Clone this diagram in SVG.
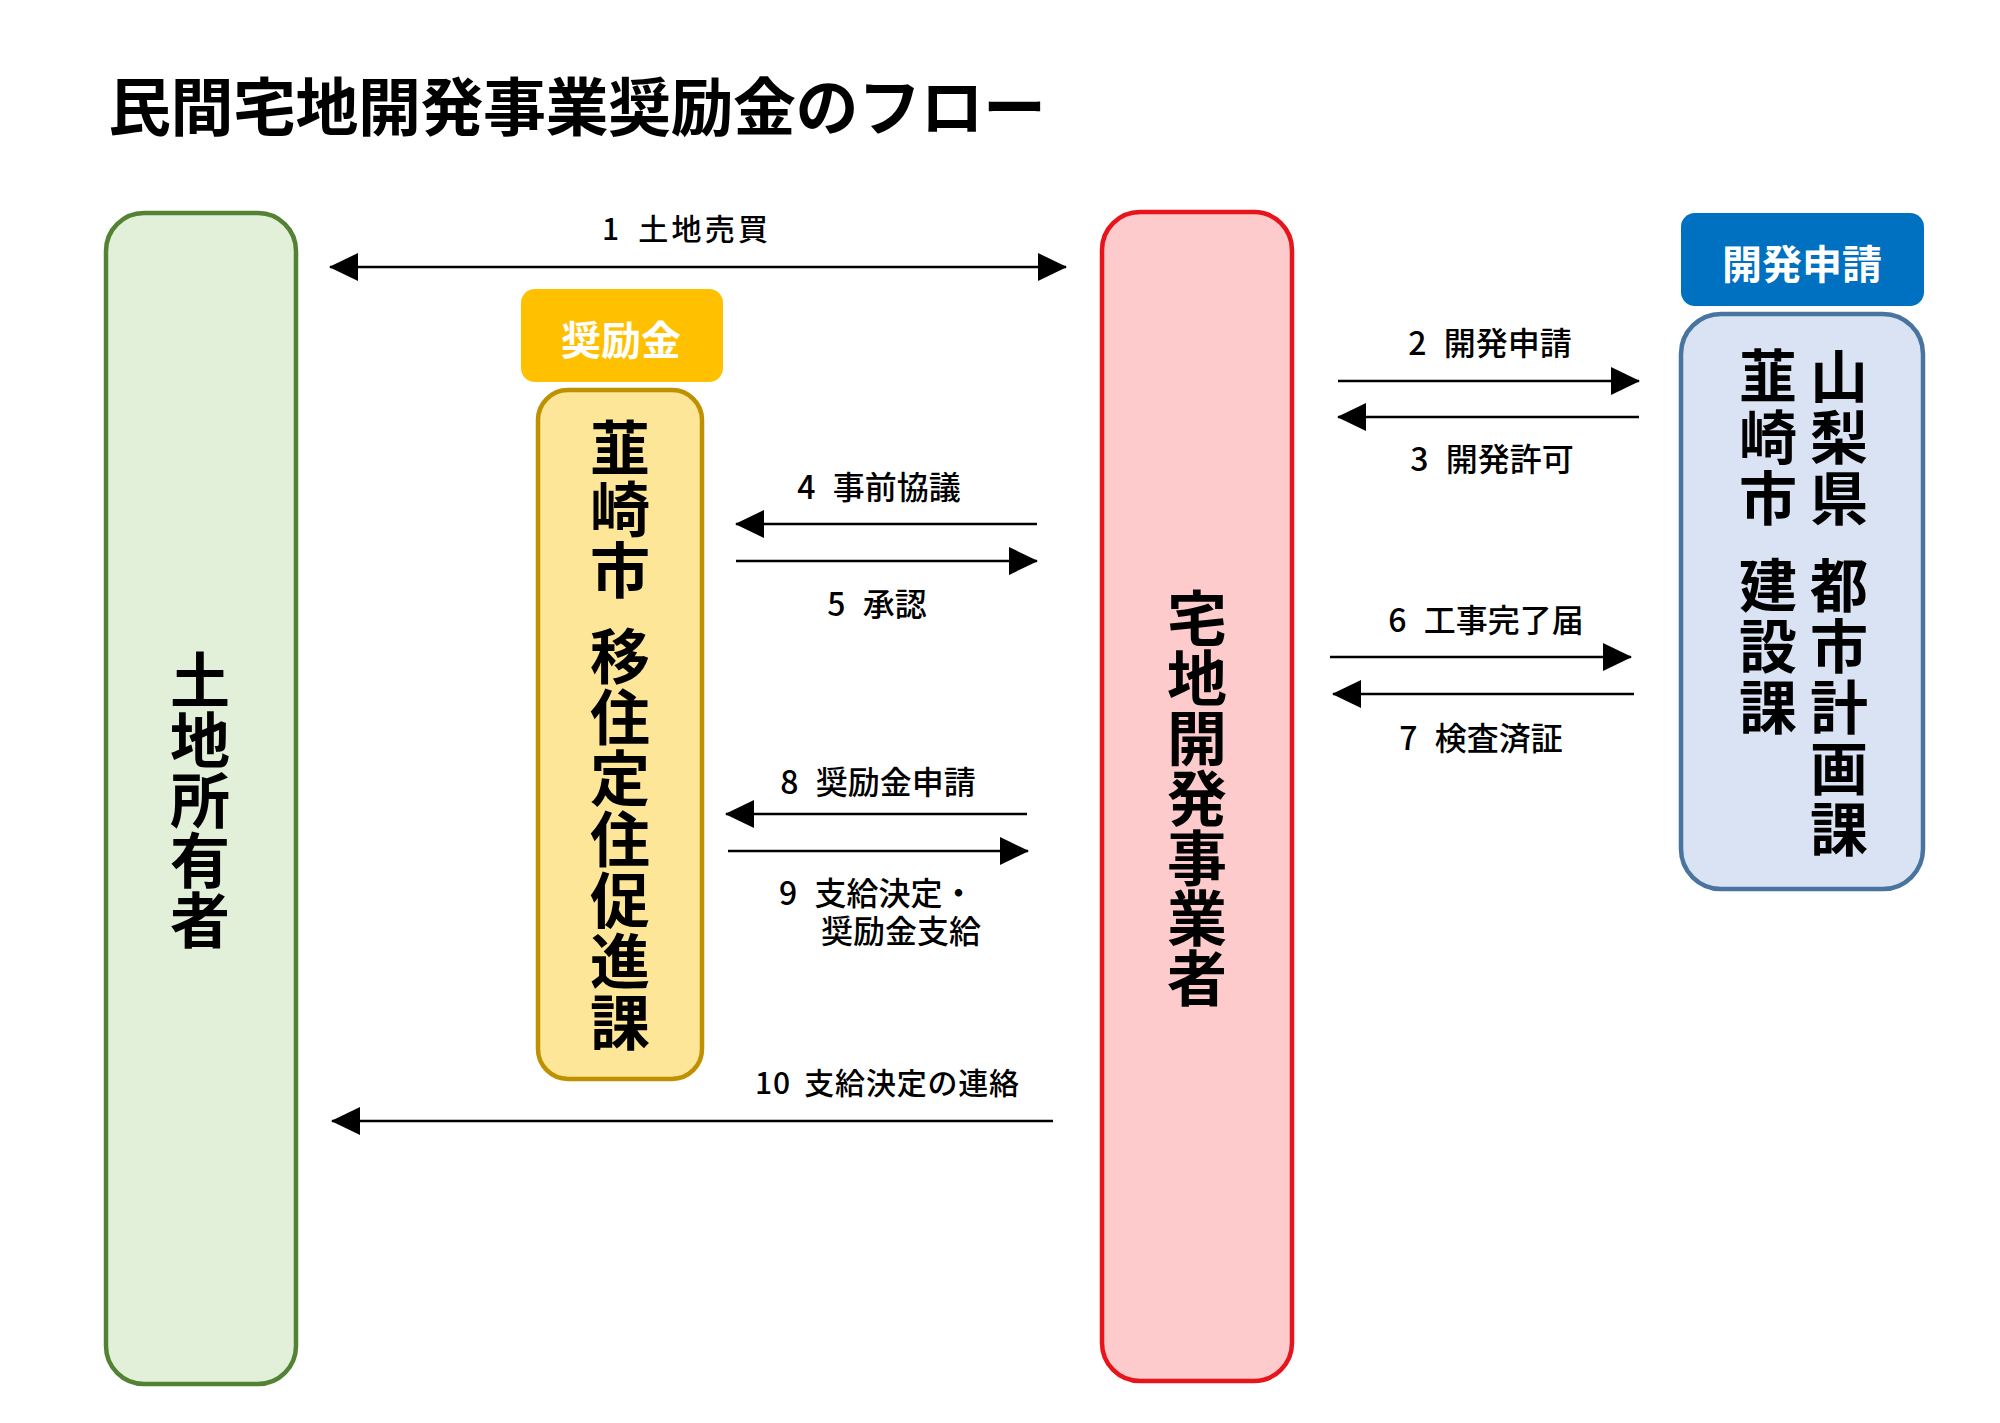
<svg xmlns="http://www.w3.org/2000/svg" width="2000" height="1423" viewBox="0 0 2000 1423">
<style>
text{font-family:"Noto Sans CJK JP","Noto Sans",sans-serif;fill:#000}
.title{font-size:63px;font-weight:700}
.vt{writing-mode:vertical-rl;font-weight:700}
.lbl{font-size:32px;font-weight:500;word-spacing:10px}
.lbl2{font-size:30px;font-weight:500;word-spacing:6px}
.tag{font-size:40px;font-weight:700;fill:#fff}
.arr{stroke:#000;stroke-width:2.5;fill:none;marker-end:url(#ah)}
</style>
<defs>
<marker id="ah" viewBox="0 0 29 28" markerWidth="29" markerHeight="28" refX="28" refY="14" orient="auto-start-reverse" markerUnits="userSpaceOnUse">
<path d="M0,0 L29,14 L0,28 Z" fill="#000"/>
</marker>
</defs>
<rect width="2000" height="1423" fill="#fff"/>
<text class="title" x="108" y="130" textLength="938">民間宅地開発事業奨励金のフロー</text>

<g id="node-landowner">
<rect x="106" y="213" width="190" height="1171" rx="38" fill="#e2efd9" stroke="#548235" stroke-width="4.5"/>
<text class="vt" x="200" y="800" font-size="60" text-anchor="middle">土地所有者</text>
</g>

<g id="node-developer">
<rect x="1102" y="212" width="190" height="1169" rx="38" fill="#fdcbcb" stroke="#e8141b" stroke-width="4.5"/>
<text class="vt" x="1197" y="798" font-size="60" text-anchor="middle">宅地開発事業者</text>
</g>

<g id="node-incentive-tag">
<rect x="521" y="289" width="202" height="93" rx="14" fill="#ffc000"/>
<text class="tag" x="621" y="355" text-anchor="middle">奨励金</text>
</g>

<g id="node-nirasaki-iju">
<rect x="538" y="390" width="164" height="689" rx="30" fill="#fee699" stroke="#bf9000" stroke-width="4.5"/>
<text class="vt" x="620" y="418" font-size="60" letter-spacing="1">韮崎市<tspan y="626">移住定住促進課</tspan></text>
</g>

<g id="node-application-tag">
<rect x="1681" y="213" width="243" height="93" rx="14" fill="#0070c0"/>
<text class="tag" x="1802" y="279" text-anchor="middle">開発申請</text>
</g>

<g id="node-prefecture">
<rect x="1681" y="314" width="242" height="575" rx="40" fill="#dae3f3" stroke="#4a74a0" stroke-width="4.5"/>
<text class="vt" x="1839" y="347" font-size="58" letter-spacing="3">山梨県<tspan y="556">都市計画課</tspan></text>
<text class="vt" x="1768" y="347" font-size="58" letter-spacing="3">韮崎市<tspan y="556">建設課</tspan></text>
</g>

<g id="connectors">
<line class="arr" x1="330" y1="267" x2="1066" y2="267" style="marker-start:url(#ah)"/>
<line class="arr" x1="1338" y1="381" x2="1639" y2="381"/>
<line class="arr" x1="1639" y1="417" x2="1338" y2="417"/>
<line class="arr" x1="1037" y1="524" x2="736" y2="524"/>
<line class="arr" x1="736" y1="561" x2="1037" y2="561"/>
<line class="arr" x1="1330" y1="657" x2="1631" y2="657"/>
<line class="arr" x1="1634" y1="694" x2="1333" y2="694"/>
<line class="arr" x1="1027" y1="814" x2="726" y2="814"/>
<line class="arr" x1="728" y1="851" x2="1028" y2="851"/>
<line class="arr" x1="1053" y1="1121" x2="332" y2="1121"/>
<text class="lbl2" x="685" y="240" text-anchor="middle" textLength="166">1 土地売買</text>
<text class="lbl" x="1490" y="355" text-anchor="middle">2 開発申請</text>
<text class="lbl" x="1492" y="471" text-anchor="middle">3 開発許可</text>
<text class="lbl" x="879" y="499" text-anchor="middle">4 事前協議</text>
<text class="lbl" x="877" y="616" text-anchor="middle">5 承認</text>
<text class="lbl" x="1486" y="632" text-anchor="middle">6 工事完了届</text>
<text class="lbl" x="1481" y="750" text-anchor="middle">7 検査済証</text>
<text class="lbl" x="878" y="794" text-anchor="middle">8 奨励金申請</text>
<text class="lbl" x="779" y="905">9 支給決定・<tspan x="821" y="943">奨励金支給</tspan></text>
<text class="lbl2" x="755" y="1094" textLength="264">10 支給決定の連絡</text>
</g>
</svg>
